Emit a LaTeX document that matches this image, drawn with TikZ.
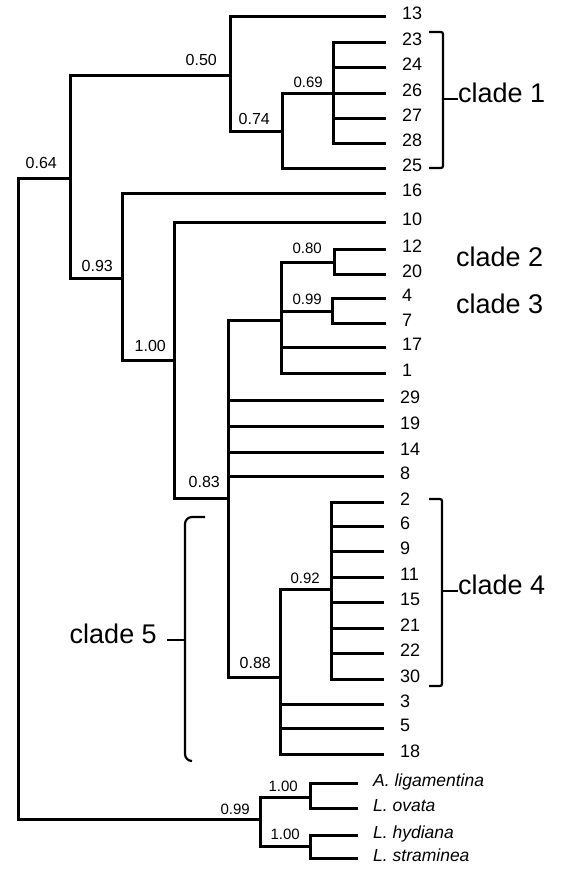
\documentclass[tikz,border=0pt]{standalone}
\usepackage{fontspec}
\setmainfont{Liberation Sans}
\usetikzlibrary{positioning}

\begin{document}
\begin{tikzpicture}[
  x=1pt, y=-1pt,
  br/.style={line width=3pt},
  brk/.style={line width=2.2pt, rounded corners=2pt},
  leaf/.style={anchor=west, inner xsep=16pt, inner ysep=0pt, text height=0.716em, text depth=0pt, font=\fontsize{18}{18}\selectfont},
  sp/.style={leaf, inner xsep=15pt, font=\fontsize{17.5}{17.5}\selectfont\itshape},
  bs/.style={inner sep=0pt, font=\fontsize{16}{16}\selectfont},
  bss/.style={bs, font=\fontsize{15}{15}\selectfont},
  clade/.style={anchor=west, inner sep=0pt, text height=0.716em, text depth=0pt, font=\fontsize{27}{27}\selectfont}
]
\useasboundingbox (0,0) rectangle (561,870);

\coordinate (r) at (18,500);
\coordinate (n64) at (70,178);
\coordinate (n50) at (230,75);
\coordinate (n74) at (282,131);
\coordinate (n69) at (333,93);
\coordinate (n93) at (122,278);
\coordinate (n100) at (174,360);
\coordinate (n83) at (228,498);
\coordinate (np) at (281,320);
\coordinate (n80) at (334,262);
\coordinate (n99) at (332,311);
\coordinate (n88) at (280,677);
\coordinate (n92) at (331,589);
\coordinate (nog) at (260,819);
\coordinate (na) at (310,797);
\coordinate (nb) at (310,846);

\node[leaf] (l13) at (386,16) {13};
\node[leaf] (l23) at (386,42) {23};
\node[leaf] (l24) at (386,67) {24};
\node[leaf] (l26) at (386,93) {26};
\node[leaf] (l27) at (386,118) {27};
\node[leaf] (l28) at (386,143) {28};
\node[leaf] (l25) at (386,168) {25};
\node[leaf] (l16) at (386,193) {16};
\node[leaf] (l10) at (386,222) {10};
\node[leaf] (l12) at (386,249) {12};
\node[leaf] (l20) at (386,274) {20};
\node[leaf] (l4) at (386,298) {4};
\node[leaf] (l7) at (386,323) {7};
\node[leaf] (l17) at (386,347) {17};
\node[leaf] (l1) at (386,373) {1};
\node[leaf] (l29) at (384,400) {29};
\node[leaf] (l19) at (384,426) {19};
\node[leaf] (l14) at (384,452) {14};
\node[leaf] (l8) at (384,476) {8};
\node[leaf] (l2) at (384,502) {2};
\node[leaf] (l6) at (384,526) {6};
\node[leaf] (l9) at (384,551) {9};
\node[leaf] (l11) at (384,577) {11};
\node[leaf] (l15) at (384,602) {15};
\node[leaf] (l21) at (384,628) {21};
\node[leaf] (l22) at (384,653) {22};
\node[leaf] (l30) at (384,679) {30};
\node[leaf] (l3) at (384,704) {3};
\node[leaf] (l5) at (384,728) {5};
\node[leaf] (l18) at (384,754) {18};
\node[sp] (lA) at (358,783) {A. ligamentina};
\node[sp] (lB) at (358,808) {L. ovata};
\node[sp] (lC) at (358,835) {L. hydiana};
\node[sp] (lD) at (358,858) {L. straminea};

\draw[br] (r) |- (n64) (r) |- (nog);
\draw[br] (n64) |- (n50) (n64) |- (n93);
\draw[br] (n50) |- (l13.west) (n50) |- (n74);
\draw[br] (n74) |- (n69) (n74) |- (l25.west);
\draw[br] (n69) |- (l23.west) (n69) |- (l24.west) (n69) |- (l26.west) (n69) |- (l27.west) (n69) |- (l28.west);
\draw[br] (n93) |- (l16.west) (n93) |- (n100);
\draw[br] (n100) |- (l10.west) (n100) |- (n83);
\draw[br] (n83) |- (np) (n83) |- (l29.west) (n83) |- (l19.west) (n83) |- (l14.west) (n83) |- (l8.west) (n83) |- (n88);
\draw[br] (np) |- (n80) (np) |- (n99) (np) |- (l17.west) (np) |- (l1.west);
\draw[br] (n80) |- (l12.west) (n80) |- (l20.west);
\draw[br] (n99) |- (l4.west) (n99) |- (l7.west);
\draw[br] (n88) |- (n92) (n88) |- (l3.west) (n88) |- (l5.west) (n88) |- (l18.west);
\draw[br] (n92) |- (l2.west) (n92) |- (l6.west) (n92) |- (l9.west) (n92) |- (l11.west) (n92) |- (l15.west) (n92) |- (l21.west) (n92) |- (l22.west) (n92) |- (l30.west);
\draw[br] (nog) |- (na) (nog) |- (nb);
\draw[br] (na) |- (lA.west) (na) |- (lB.west);
\draw[br] (nb) |- (lC.west) (nb) |- (lD.west);

\node[bs, above left=9pt and 13pt of n64] {0.64};
\node[bs, above left=9pt and 13pt of n50] {0.50};
\node[bs, above left=6pt and 12pt of n74] {0.74};
\node[bss, above left=5pt and 10pt of n69] {0.69};
\node[bs, above left=6pt and 9pt of n93] {0.93};
\node[bs, above left=8pt and 8pt of n100] {1.00};
\node[bs, above left=10pt and 8pt of n83] {0.83};
\node[bs, above left=8pt and 9pt of n88] {0.88};
\node[bss, above left=8pt and 12pt of n80] {0.80};
\node[bss, above left=6pt and 10pt of n99] {0.99};
\node[bss, above left=5pt and 11pt of n92] {0.92};
\node[bss, above left=4pt and 10pt of nog] {0.99};
\node[bss, above left=5pt and 12pt of na] {1.00};
\node[bss, above left=6pt and 10pt of nb] {1.00};

\node[clade] (k1) at (458,99) {clade 1};
\node[clade] (k2) at (456,263) {clade 2};
\node[clade] (k3) at (456,310) {clade 3};
\node[clade] (k4) at (458,591) {clade 4};
\node[clade, anchor=east] (k5) at (157,640) {clade 5};

\draw[brk] (429,32) -| (443,168) -- (429,168);
\draw[brk] (443,99) -- (k1.west);
\draw[brk] (429,499) -| (442,686) -- (429,686);
\draw[brk] (442,591) -- (k4.west);
\draw[brk, rounded corners=7pt] (205,517) -| (185,761) -- (192,761);
\draw[brk] ([xshift=10pt]k5.east) -- (185,640);
\end{tikzpicture}
\end{document}
